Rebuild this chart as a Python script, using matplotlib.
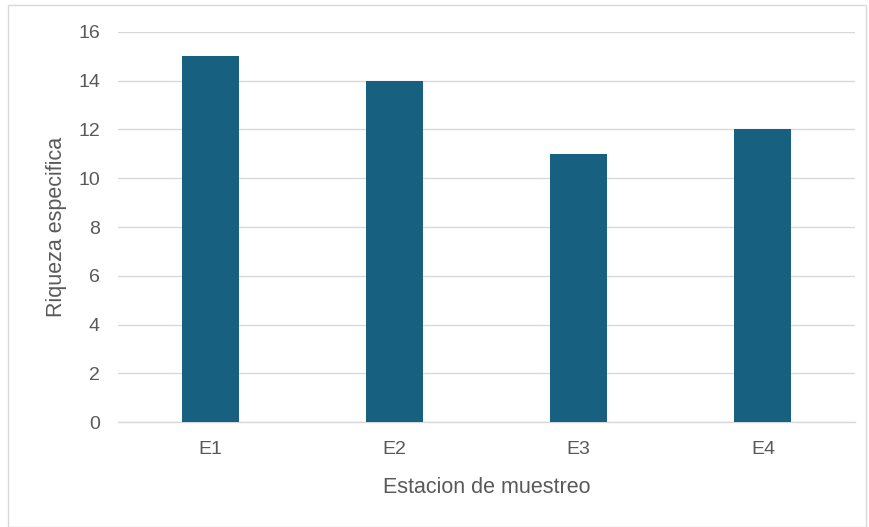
import matplotlib
matplotlib.use("Agg")
import matplotlib.pyplot as plt
from matplotlib.patches import Rectangle

plt.rcParams['font.family'] = ['Liberation Sans', 'DejaVu Sans']

# datos
estaciones = ["E1", "E2", "E3", "E4"]
riqueza = [15, 14, 11, 12]
yticks = [0, 2, 4, 6, 8, 10, 12, 14, 16]

gris = "#595959"

fig = plt.figure(figsize=(8.69, 5.27), dpi=100)
ax = fig.add_axes([0.1358, 0.1992, 0.8481, 0.7401])

ax.bar(estaciones, riqueza, width=0.31, color="#17607f", zorder=3)

ax.set_xlim(-0.5, len(estaciones) - 0.5)
ax.set_ylim(0, 16)
ax.set_yticks(yticks)
ax.grid(axis="y", color="#d9d9d9", linewidth=1, zorder=0)

for s in ["top", "right", "left"]:
    ax.spines[s].set_visible(False)
ax.spines["bottom"].set_color("#d9d9d9")
ax.spines["bottom"].set_linewidth(1)

ax.tick_params(axis="both", length=0, labelsize=14, labelcolor=gris)
ax.tick_params(axis="y", pad=13)
ax.tick_params(axis="x", pad=14)

ax.set_xlabel("Estacion de muestreo", fontsize=15.5, color=gris)
ax.set_ylabel("Riqueza especifica", fontsize=15.5, color=gris)
ax.yaxis.set_label_coords(-0.069, 0.5)
ax.xaxis.set_label_coords(0.5, -0.14)

# borde del gráfico
fig.patches.append(Rectangle((8 / 869, 0.0), 858 / 869, 1 - 5 / 527,
                             transform=fig.transFigure, fill=False,
                             edgecolor="#d9d9d9", linewidth=1))

fig.savefig("out.png", dpi=100)
